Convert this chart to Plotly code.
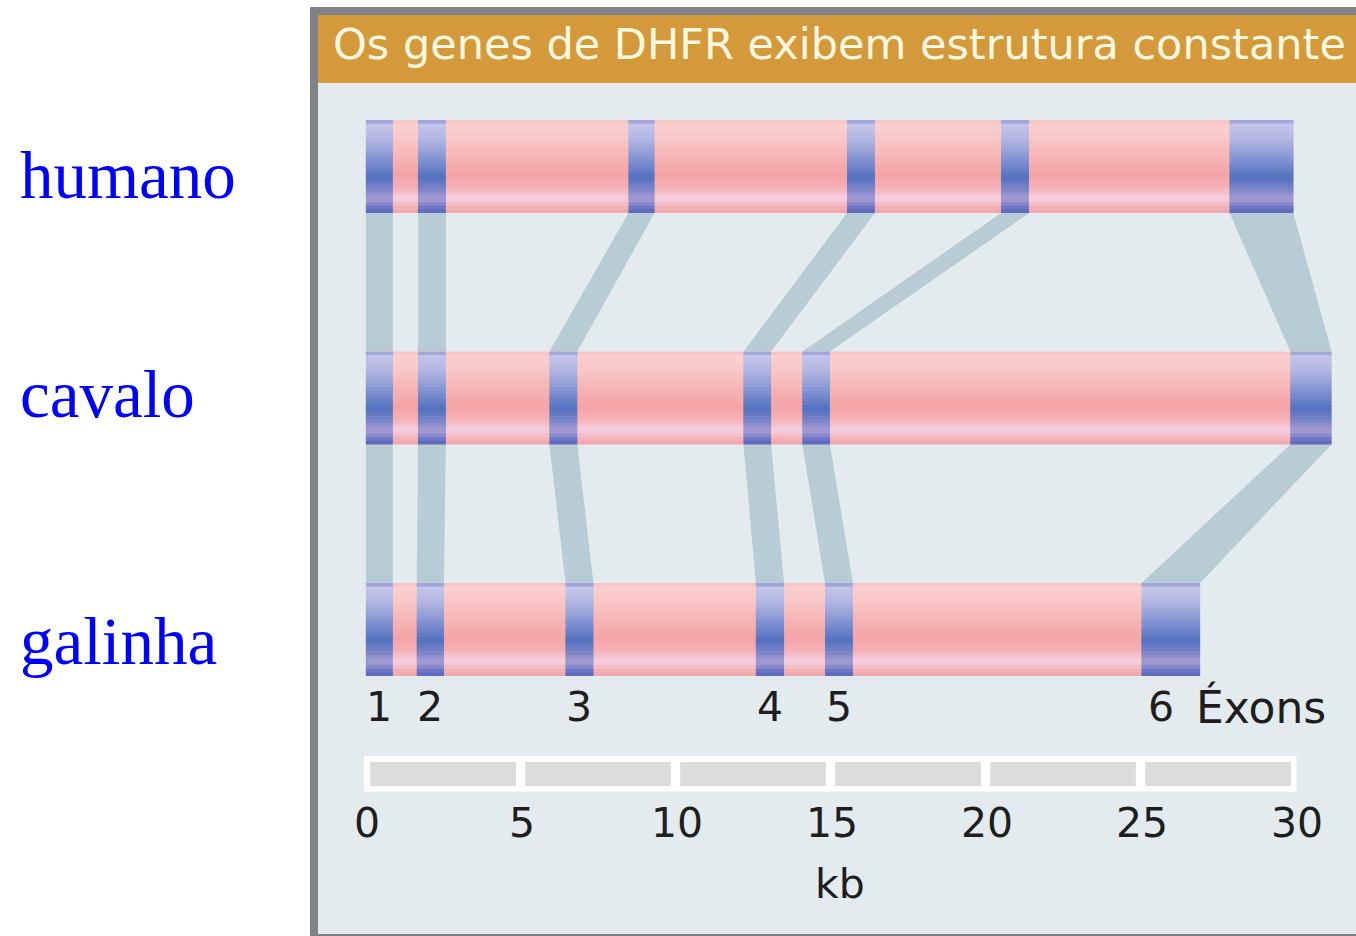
import plotly.graph_objects as go

# ---------------- data (kb) ----------------
species = ["humano", "cavalo", "galinha"]
gene_start = [-0.02, -0.02, -0.02]
gene_end = [29.90, 31.13, 26.89]

humano_exon_start = [-0.02, 1.66, 8.45, 15.50, 20.47, 27.84]
humano_exon_end = [0.85, 2.56, 9.29, 16.40, 21.37, 29.90]
cavalo_exon_start = [-0.02, 1.66, 5.90, 12.16, 14.06, 29.80]
cavalo_exon_end = [0.85, 2.56, 6.80, 13.05, 14.95, 31.13]
galinha_exon_start = [-0.02, 1.62, 6.42, 12.56, 14.79, 25.00]
galinha_exon_end = [0.85, 2.50, 7.32, 13.47, 15.69, 26.89]

exon_labels = ["1", "2", "3", "4", "5", "6"]
scale_ticks = [0, 5, 10, 15, 20, 25, 30]
scale_unit = "kb"
title_text = "Os genes de DHFR exibem estrutura constante"
exons_word = "Éxons"

exon_start = [humano_exon_start, cavalo_exon_start, galinha_exon_start]
exon_end = [humano_exon_end, cavalo_exon_end, galinha_exon_end]

# ---------------- styling ----------------
W, H = 1356, 936
PX_PER_KB = 31.0
X0_PX = 366.5
ROW0_PX, ROW_STEP_PX = 166.5, 231.5
HALF = 46.5 / ROW_STEP_PX

BG = "#E4EBEF"
BORDER = "#808285"
ORANGE = "#D4993A"
CONNECT = "#B7CCD5"
TXT = "#1E1E1E"
SANS = "DejaVu Sans, Liberation Sans, Arial"
SERIF = "Liberation Serif, Times New Roman"

def hex2rgb(h):
    h = h.lstrip("#")
    return tuple(int(h[i:i + 2], 16) for i in (0, 2, 4))

intron_stops = [(0.0, "#F5C0C0"), (0.04, "#FACFCE"), (0.2, "#F9C7C7"), (0.58, "#F4A4A6"),
                (0.72, "#F5AFB3"), (0.84, "#F4CFE0"), (0.93, "#F4B6BC"), (1.0, "#F0A2A8")]
exon_stops = [(0.0, "#6470C0"), (0.03, "#C5C6EA"), (0.2, "#B3B7E3"), (0.45, "#7C8ED0"),
              (0.62, "#5371BF"), (0.75, "#7E86CA"), (0.85, "#A99DD5"), (0.94, "#7078C5"),
              (1.0, "#5466BA")]

def interp(stops, t):
    for (t0, c0), (t1, c1) in zip(stops[:-1], stops[1:]):
        if t0 <= t <= t1:
            a = (t - t0) / (t1 - t0) if t1 > t0 else 0
            r0, g0, b0 = hex2rgb(c0)
            r1, g1, b1 = hex2rgb(c1)
            return "rgb(%d,%d,%d)" % (round(r0 + (r1 - r0) * a), round(g0 + (g1 - g0) * a),
                                      round(b0 + (b1 - b0) * a))
    return stops[-1][1]

N_STRIPS = 26

def gradient_rect(x0, x1, row, stops):
    out = []
    top = row - HALF
    hgt = 2 * HALF
    for k in range(N_STRIPS):
        ya = top + hgt * k / N_STRIPS
        yb = top + hgt * min(k + 1.35, N_STRIPS) / N_STRIPS
        out.append(dict(type="rect", xref="x", yref="y", x0=x0, x1=x1, y0=ya, y1=yb,
                        fillcolor=interp(stops, (k + 0.5) / N_STRIPS), line=dict(width=0),
                        layer="above"))
    return out

def py(px):  # paper y from pixel
    return 1 - px / H

def pxx(px):  # paper x from pixel
    return px / W

shapes = []
# panel frame
shapes.append(dict(type="rect", xref="paper", yref="paper", x0=pxx(310), x1=1.0, y0=0, y1=py(7),
                   fillcolor=BORDER, line=dict(width=0), layer="below"))
shapes.append(dict(type="rect", xref="paper", yref="paper", x0=pxx(318), x1=1.0, y0=py(934), y1=py(15),
                   fillcolor=BG, line=dict(width=0), layer="below"))
shapes.append(dict(type="rect", xref="paper", yref="paper", x0=pxx(318), x1=1.0, y0=py(83), y1=py(15),
                   fillcolor=ORANGE, line=dict(width=0), layer="below"))

# connectors between homologous exons
for r in range(len(species) - 1):
    for a0, a1, b0, b1 in zip(exon_start[r], exon_end[r], exon_start[r + 1], exon_end[r + 1]):
        ya = r + HALF
        yb = r + 1 - HALF
        path = "M %f,%f L %f,%f L %f,%f L %f,%f Z" % (a0, ya, a1, ya, b1, yb, b0, yb)
        shapes.append(dict(type="path", xref="x", yref="y", path=path, fillcolor=CONNECT,
                           line=dict(width=0), layer="above"))

# genes: introns (body) then exons
for r in range(len(species)):
    shapes += gradient_rect(gene_start[r], gene_end[r], r, intron_stops)
    for s, e in zip(exon_start[r], exon_end[r]):
        shapes += gradient_rect(s, e, r, exon_stops)

# scale bar
shapes.append(dict(type="rect", xref="x", yref="paper", x0=scale_ticks[0] - 0.08, x1=scale_ticks[-1],
                   y0=py(791.5), y1=py(756), fillcolor="white", line=dict(width=0), layer="above"))
for a, b in zip(scale_ticks[:-1], scale_ticks[1:]):
    shapes.append(dict(type="rect", xref="x", yref="paper", x0=a + 0.12, x1=b - 0.18,
                       y0=py(786), y1=py(762), fillcolor="#DCDCDC", line=dict(width=0), layer="above"))

annotations = []
annotations.append(dict(text=title_text, xref="paper", yref="paper", x=pxx(331), y=py(44),
                        xanchor="left", yanchor="middle", showarrow=False,
                        font=dict(family=SANS, size=43, color="#FFF8E1")))

label_shift = [-8, 4, -11]
for i, name in enumerate(species):
    annotations.append(dict(text=name, xref="paper", yref="y", x=pxx(18), y=i, yshift=label_shift[i],
                            xanchor="left", yanchor="middle", showarrow=False,
                            font=dict(family=SERIF, size=67, color="#0000FF")))

last = len(species) - 1
for k, lab in enumerate(exon_labels):
    s, e = exon_start[last][k], exon_end[last][k]
    xc = (s + e) / 2
    if k == len(exon_labels) - 1:
        xc = s + 0.62
    annotations.append(dict(text=lab, xref="x", yref="paper", x=xc, y=py(707),
                            xanchor="center", yanchor="middle", showarrow=False,
                            font=dict(family=SANS, size=41, color=TXT)))
annotations.append(dict(text=exons_word, xref="x", yref="paper", x=exon_start[last][-1] + 1.68, y=py(707),
                        xanchor="left", yanchor="middle", showarrow=False,
                        font=dict(family=SANS, size=44, color=TXT)))

for t in scale_ticks:
    annotations.append(dict(text=str(t), xref="x", yref="paper", x=t, y=py(823),
                            xanchor="center", yanchor="middle", showarrow=False,
                            font=dict(family=SANS, size=41, color=TXT)))
annotations.append(dict(text=scale_unit, xref="x", yref="paper", x=(scale_ticks[0] + scale_ticks[-1]) / 2,
                        xshift=8, y=py(884), xanchor="center", yanchor="middle", showarrow=False,
                        font=dict(family=SANS, size=41, color=TXT)))

fig = go.Figure()
fig.add_trace(go.Scatter(x=[None], y=[None], showlegend=False, hoverinfo="skip"))
fig.update_layout(
    width=W, height=H, autosize=False,
    margin=dict(l=0, r=0, t=0, b=0, pad=0),
    paper_bgcolor="white", plot_bgcolor="rgba(0,0,0,0)",
    showlegend=False,
    xaxis=dict(visible=False, range=[-X0_PX / PX_PER_KB, (W - X0_PX) / PX_PER_KB], domain=[0, 1], fixedrange=True),
    yaxis=dict(visible=False, range=[(H - ROW0_PX) / ROW_STEP_PX, -ROW0_PX / ROW_STEP_PX], domain=[0, 1], fixedrange=True),
    shapes=shapes,
    annotations=annotations,
)
fig.write_html("out.html", config={"staticPlot": True},
               post_script="document.body.style.margin='0px';document.body.style.overflow='hidden';")
